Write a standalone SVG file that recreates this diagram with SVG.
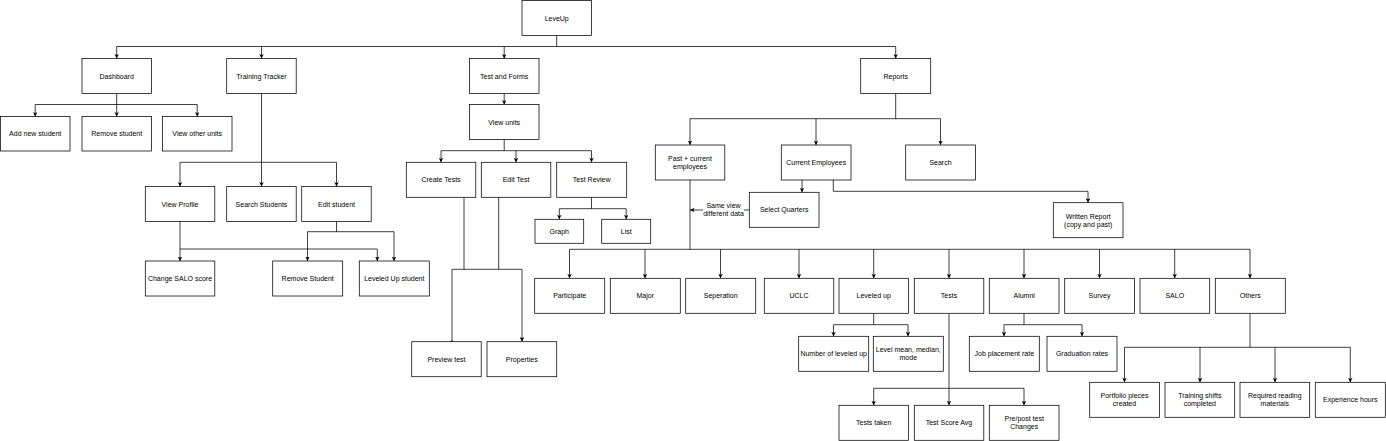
<svg xmlns="http://www.w3.org/2000/svg" width="1386" height="441" viewBox="0 0 1386 441">
<defs>
<style>
.n rect{fill:#fff;stroke:#000;stroke-width:0.75}
.n text,.lbl{font-family:"Liberation Sans",Arial,sans-serif;font-size:7px;fill:#000;text-anchor:middle;dominant-baseline:central}
.c path{fill:none;stroke:#000;stroke-width:0.75}
.c path.a{marker-end:url(#ah)}
</style>
<marker id="ah" viewBox="0 0 8 8" markerWidth="4.5" markerHeight="4.5" refX="8" refY="4" orient="auto" markerUnits="userSpaceOnUse">
<path d="M0,0 L8,4 L0,8 L2,4 z" fill="#000"/>
</marker>
</defs>
<rect width="1386" height="441" fill="#fff"/>
<g class="c" id="connectors">
<path d="M556.7,35.5 V46.5 H116.7 M556.7,46.5 H895.7"/>
<path class="a" d="M116.7,46.5 V58.5"/>
<path class="a" d="M261.5,46.5 V58.5"/>
<path class="a" d="M504.2,46.5 V58.5"/>
<path class="a" d="M895.7,46.5 V58.5"/>
<path d="M116.7,93.5 V104.5 M35.2,104.5 H197.2"/>
<path class="a" d="M35.2,104.5 V116.5"/>
<path class="a" d="M116.7,104.5 V116.5"/>
<path class="a" d="M197.2,104.5 V116.5"/>
<path class="a" d="M261.5,93.5 V186.5"/>
<path d="M180,162.3 H336.5"/>
<path class="a" d="M180,162.3 V186.5"/>
<path class="a" d="M336.5,162.3 V186.5"/>
<path class="a" d="M180,221.5 V261"/>
<path class="a" d="M180,249 H377.3 V261"/>
<path d="M336.5,221.5 V231.7 M307.5,231.7 H394"/>
<path class="a" d="M307.5,231.7 V261"/>
<path class="a" d="M394,231.7 V261"/>
<path class="a" d="M504.2,93.5 V104.5"/>
<path d="M504.2,139.5 V150.7 M441,150.7 H591.5"/>
<path class="a" d="M441,150.7 V162.3"/>
<path class="a" d="M516,150.7 V162.3"/>
<path class="a" d="M591.5,150.7 V162.3"/>
<path d="M591.5,197.3 V208.7 M559.3,208.7 H626.2"/>
<path class="a" d="M559.3,208.7 V219.3"/>
<path class="a" d="M626.2,208.7 V219.3"/>
<path d="M464,197.3 V269.3 M498.7,197.3 V269.3 M452,269.3 H522"/>
<path d="M452,269.3 V341.7"/>
<polygon points="449,341.8 452.4,340.2 452.4,341.8" fill="#000"/>
<path class="a" d="M522,269.3 V341.7"/>
<path d="M895.7,93.5 V118.7 M690,118.7 H940.5"/>
<path class="a" d="M690,118.7 V145"/>
<path class="a" d="M816,118.7 V145"/>
<path class="a" d="M940.5,118.7 V145"/>
<path class="a" d="M802,180 V192.3"/>
<path class="a" d="M833.3,180 V191.3 H1088 V202.7"/>
<path class="a" d="M749.3,210 H690"/>
<path d="M690,180 V249.3 M569.5,249.3 H1250"/>
<path class="a" d="M569.5,249.3 V278.3"/>
<path class="a" d="M645,249.3 V278.3"/>
<path class="a" d="M720.5,249.3 V278.3"/>
<path class="a" d="M799,249.3 V278.3"/>
<path class="a" d="M873.7,249.3 V278.3"/>
<path class="a" d="M949,249.3 V278.3"/>
<path class="a" d="M1024,249.3 V278.3"/>
<path class="a" d="M1099.5,249.3 V278.3"/>
<path class="a" d="M1174.7,249.3 V278.3"/>
<path class="a" d="M1250,249.3 V278.3"/>
<path d="M873.7,313.3 V324.7 M833.5,324.7 H908"/>
<path class="a" d="M833.5,324.7 V336.3"/>
<path class="a" d="M908,324.7 V336.3"/>
<path d="M1024,313.3 V324.7 M1004,324.7 H1082"/>
<path class="a" d="M1004,324.7 V336.3"/>
<path class="a" d="M1082,324.7 V336.3"/>
<path d="M949,313.3 V388.3 M873.7,388.3 H1024"/>
<path class="a" d="M873.7,388.3 V405.3"/>
<path class="a" d="M949,388.3 V405.3"/>
<path class="a" d="M1024,388.3 V405.3"/>
<path d="M1250,313.3 V347.3 M1124.5,347.3 H1350.3"/>
<path class="a" d="M1124.5,347.3 V382.3"/>
<path class="a" d="M1200,347.3 V382.3"/>
<path class="a" d="M1275,347.3 V382.3"/>
<path class="a" d="M1350.3,347.3 V382.3"/>
<rect x="703" y="200" width="41" height="18" fill="#fff"/>
<text class="lbl" x="723.5" y="205.3">Same view</text>
<text class="lbl" x="723.5" y="213.7">different data</text>
</g>
<g class="n" id="leveup"><rect x="522" y="0.5" width="69.5" height="35"/><text x="556.7" y="18">LeveUp</text></g>
<g class="n" id="dashboard"><rect x="82" y="58.5" width="69.5" height="35"/><text x="116.7" y="76">Dashboard</text></g>
<g class="n" id="training-tracker"><rect x="226.7" y="58.5" width="69.5" height="35"/><text x="261.5" y="76">Training Tracker</text></g>
<g class="n" id="test-and-forms"><rect x="469.5" y="58.5" width="69.5" height="35"/><text x="504.2" y="76">Test and Forms</text></g>
<g class="n" id="reports"><rect x="860.7" y="58.5" width="70" height="35"/><text x="895.7" y="76">Reports</text></g>
<g class="n" id="add-new-student"><rect x="0.5" y="116.5" width="69.5" height="34.5"/><text x="35.2" y="133.7">Add new student</text></g>
<g class="n" id="remove-student"><rect x="82" y="116.5" width="69.5" height="34.5"/><text x="116.7" y="133.7">Remove student</text></g>
<g class="n" id="view-other-units"><rect x="162.5" y="116.5" width="69.5" height="34.5"/><text x="197.2" y="133.7">View other units</text></g>
<g class="n" id="view-units"><rect x="469.5" y="104.5" width="69.5" height="35"/><text x="504.2" y="122">View units</text></g>
<g class="n" id="view-profile"><rect x="145.3" y="186.5" width="69.5" height="35"/><text x="180" y="204">View Profile</text></g>
<g class="n" id="search-students"><rect x="226.7" y="186.5" width="69.5" height="35"/><text x="261.5" y="204">Search Students</text></g>
<g class="n" id="edit-student"><rect x="301.7" y="186.5" width="69.5" height="35"/><text x="336.5" y="204">Edit student</text></g>
<g class="n" id="change-salo"><rect x="145.3" y="261" width="69.5" height="35"/><text x="180" y="278.5">Change SALO score</text></g>
<g class="n" id="remove-student-2"><rect x="272.7" y="261" width="70" height="35"/><text x="307.7" y="278.5">Remove Student</text></g>
<g class="n" id="leveled-up-student"><rect x="359.3" y="261" width="70" height="35"/><text x="394.3" y="278.5">Leveled Up student</text></g>
<g class="n" id="create-tests"><rect x="406.3" y="162.3" width="69.5" height="35"/><text x="441" y="179.8">Create Tests</text></g>
<g class="n" id="edit-test"><rect x="481.3" y="162.3" width="69.5" height="35"/><text x="516" y="179.8">Edit Test</text></g>
<g class="n" id="test-review"><rect x="556.7" y="162.3" width="70" height="35"/><text x="591.7" y="179.8">Test Review</text></g>
<g class="n" id="graph"><rect x="535" y="219.3" width="48.7" height="24"/><text x="559.3" y="231.3">Graph</text></g>
<g class="n" id="list"><rect x="601.7" y="219.3" width="49" height="24"/><text x="626.2" y="231.3">List</text></g>
<g class="n" id="preview-test"><rect x="411.7" y="341.7" width="69.5" height="35"/><text x="446.5" y="359.2">Preview test</text></g>
<g class="n" id="properties"><rect x="487" y="341.7" width="69.7" height="35"/><text x="521.8" y="359.2">Properties</text></g>
<g class="n" id="past-current"><rect x="655.3" y="145" width="69.5" height="35"/><text x="690" y="158.7">Past + current</text><text x="690" y="166.7">employees</text></g>
<g class="n" id="current-employees"><rect x="781.3" y="145" width="69.7" height="35"/><text x="816.2" y="162.5">Current Employees</text></g>
<g class="n" id="search"><rect x="905.7" y="145" width="69.7" height="35"/><text x="940.5" y="162.5">Search</text></g>
<g class="n" id="select-quarters"><rect x="749.3" y="192.3" width="69.7" height="35"/><text x="784.2" y="209.8">Select Quarters</text></g>
<g class="n" id="written-report"><rect x="1053.3" y="202.7" width="69.7" height="35"/><text x="1088.2" y="216.3">Written Report</text><text x="1088.2" y="224.3">(copy and past)</text></g>
<g class="n" id="participate"><rect x="534.7" y="278.3" width="70" height="35"/><text x="569.7" y="295.8">Participate</text></g>
<g class="n" id="major"><rect x="610.3" y="278.3" width="70" height="35"/><text x="645.3" y="295.8">Major</text></g>
<g class="n" id="seperation"><rect x="685.7" y="278.3" width="70" height="35"/><text x="720.7" y="295.8">Seperation</text></g>
<g class="n" id="uclc"><rect x="764.3" y="278.3" width="69.5" height="35"/><text x="799" y="295.8">UCLC</text></g>
<g class="n" id="leveled-up"><rect x="839" y="278.3" width="69.5" height="35"/><text x="873.7" y="295.8">Leveled up</text></g>
<g class="n" id="tests"><rect x="914.3" y="278.3" width="69.5" height="35"/><text x="949" y="295.8">Tests</text></g>
<g class="n" id="alumni"><rect x="989.3" y="278.3" width="69.7" height="35"/><text x="1024.2" y="295.8">Alumni</text></g>
<g class="n" id="survey"><rect x="1064.7" y="278.3" width="69.7" height="35"/><text x="1099.5" y="295.8">Survey</text></g>
<g class="n" id="salo"><rect x="1140" y="278.3" width="69.7" height="35"/><text x="1174.8" y="295.8">SALO</text></g>
<g class="n" id="others"><rect x="1215.3" y="278.3" width="70" height="35"/><text x="1250.3" y="295.8">Others</text></g>
<g class="n" id="number-leveled-up"><rect x="798.7" y="336.3" width="70" height="35"/><text x="833.7" y="353.8">Number of leveled up</text></g>
<g class="n" id="level-mean"><rect x="873.3" y="336.3" width="70" height="35"/><text x="908.3" y="349.8">Level mean, median,</text><text x="908.3" y="357.8">mode</text></g>
<g class="n" id="job-placement"><rect x="969.3" y="336.3" width="70" height="35"/><text x="1004.3" y="353.8">Job placement rate</text></g>
<g class="n" id="graduation-rates"><rect x="1047" y="336.3" width="70" height="35"/><text x="1082" y="353.8">Graduation rates</text></g>
<g class="n" id="tests-taken"><rect x="839" y="405.3" width="69.5" height="35"/><text x="873.7" y="422.8">Tests taken</text></g>
<g class="n" id="test-score-avg"><rect x="914.3" y="405.3" width="69.5" height="35"/><text x="949" y="422.8">Test Score Avg</text></g>
<g class="n" id="pre-post"><rect x="989.3" y="405.3" width="69.7" height="35"/><text x="1024.2" y="418.8">Pre/post test</text><text x="1024.2" y="426.8">Changes</text></g>
<g class="n" id="portfolio"><rect x="1089.7" y="382.3" width="69.7" height="35"/><text x="1124.5" y="395.8">Portfolio pieces</text><text x="1124.5" y="403.8">created</text></g>
<g class="n" id="training-shifts"><rect x="1165" y="382.3" width="69.7" height="35"/><text x="1199.8" y="395.8">Training shifts</text><text x="1199.8" y="403.8">completed</text></g>
<g class="n" id="required-reading"><rect x="1240" y="382.3" width="69.7" height="35"/><text x="1274.8" y="395.8">Required reading</text><text x="1274.8" y="403.8">materials</text></g>
<g class="n" id="experience-hours"><rect x="1315.3" y="382.3" width="70" height="35"/><text x="1350.3" y="399.8">Experience hours</text></g>
</svg>
